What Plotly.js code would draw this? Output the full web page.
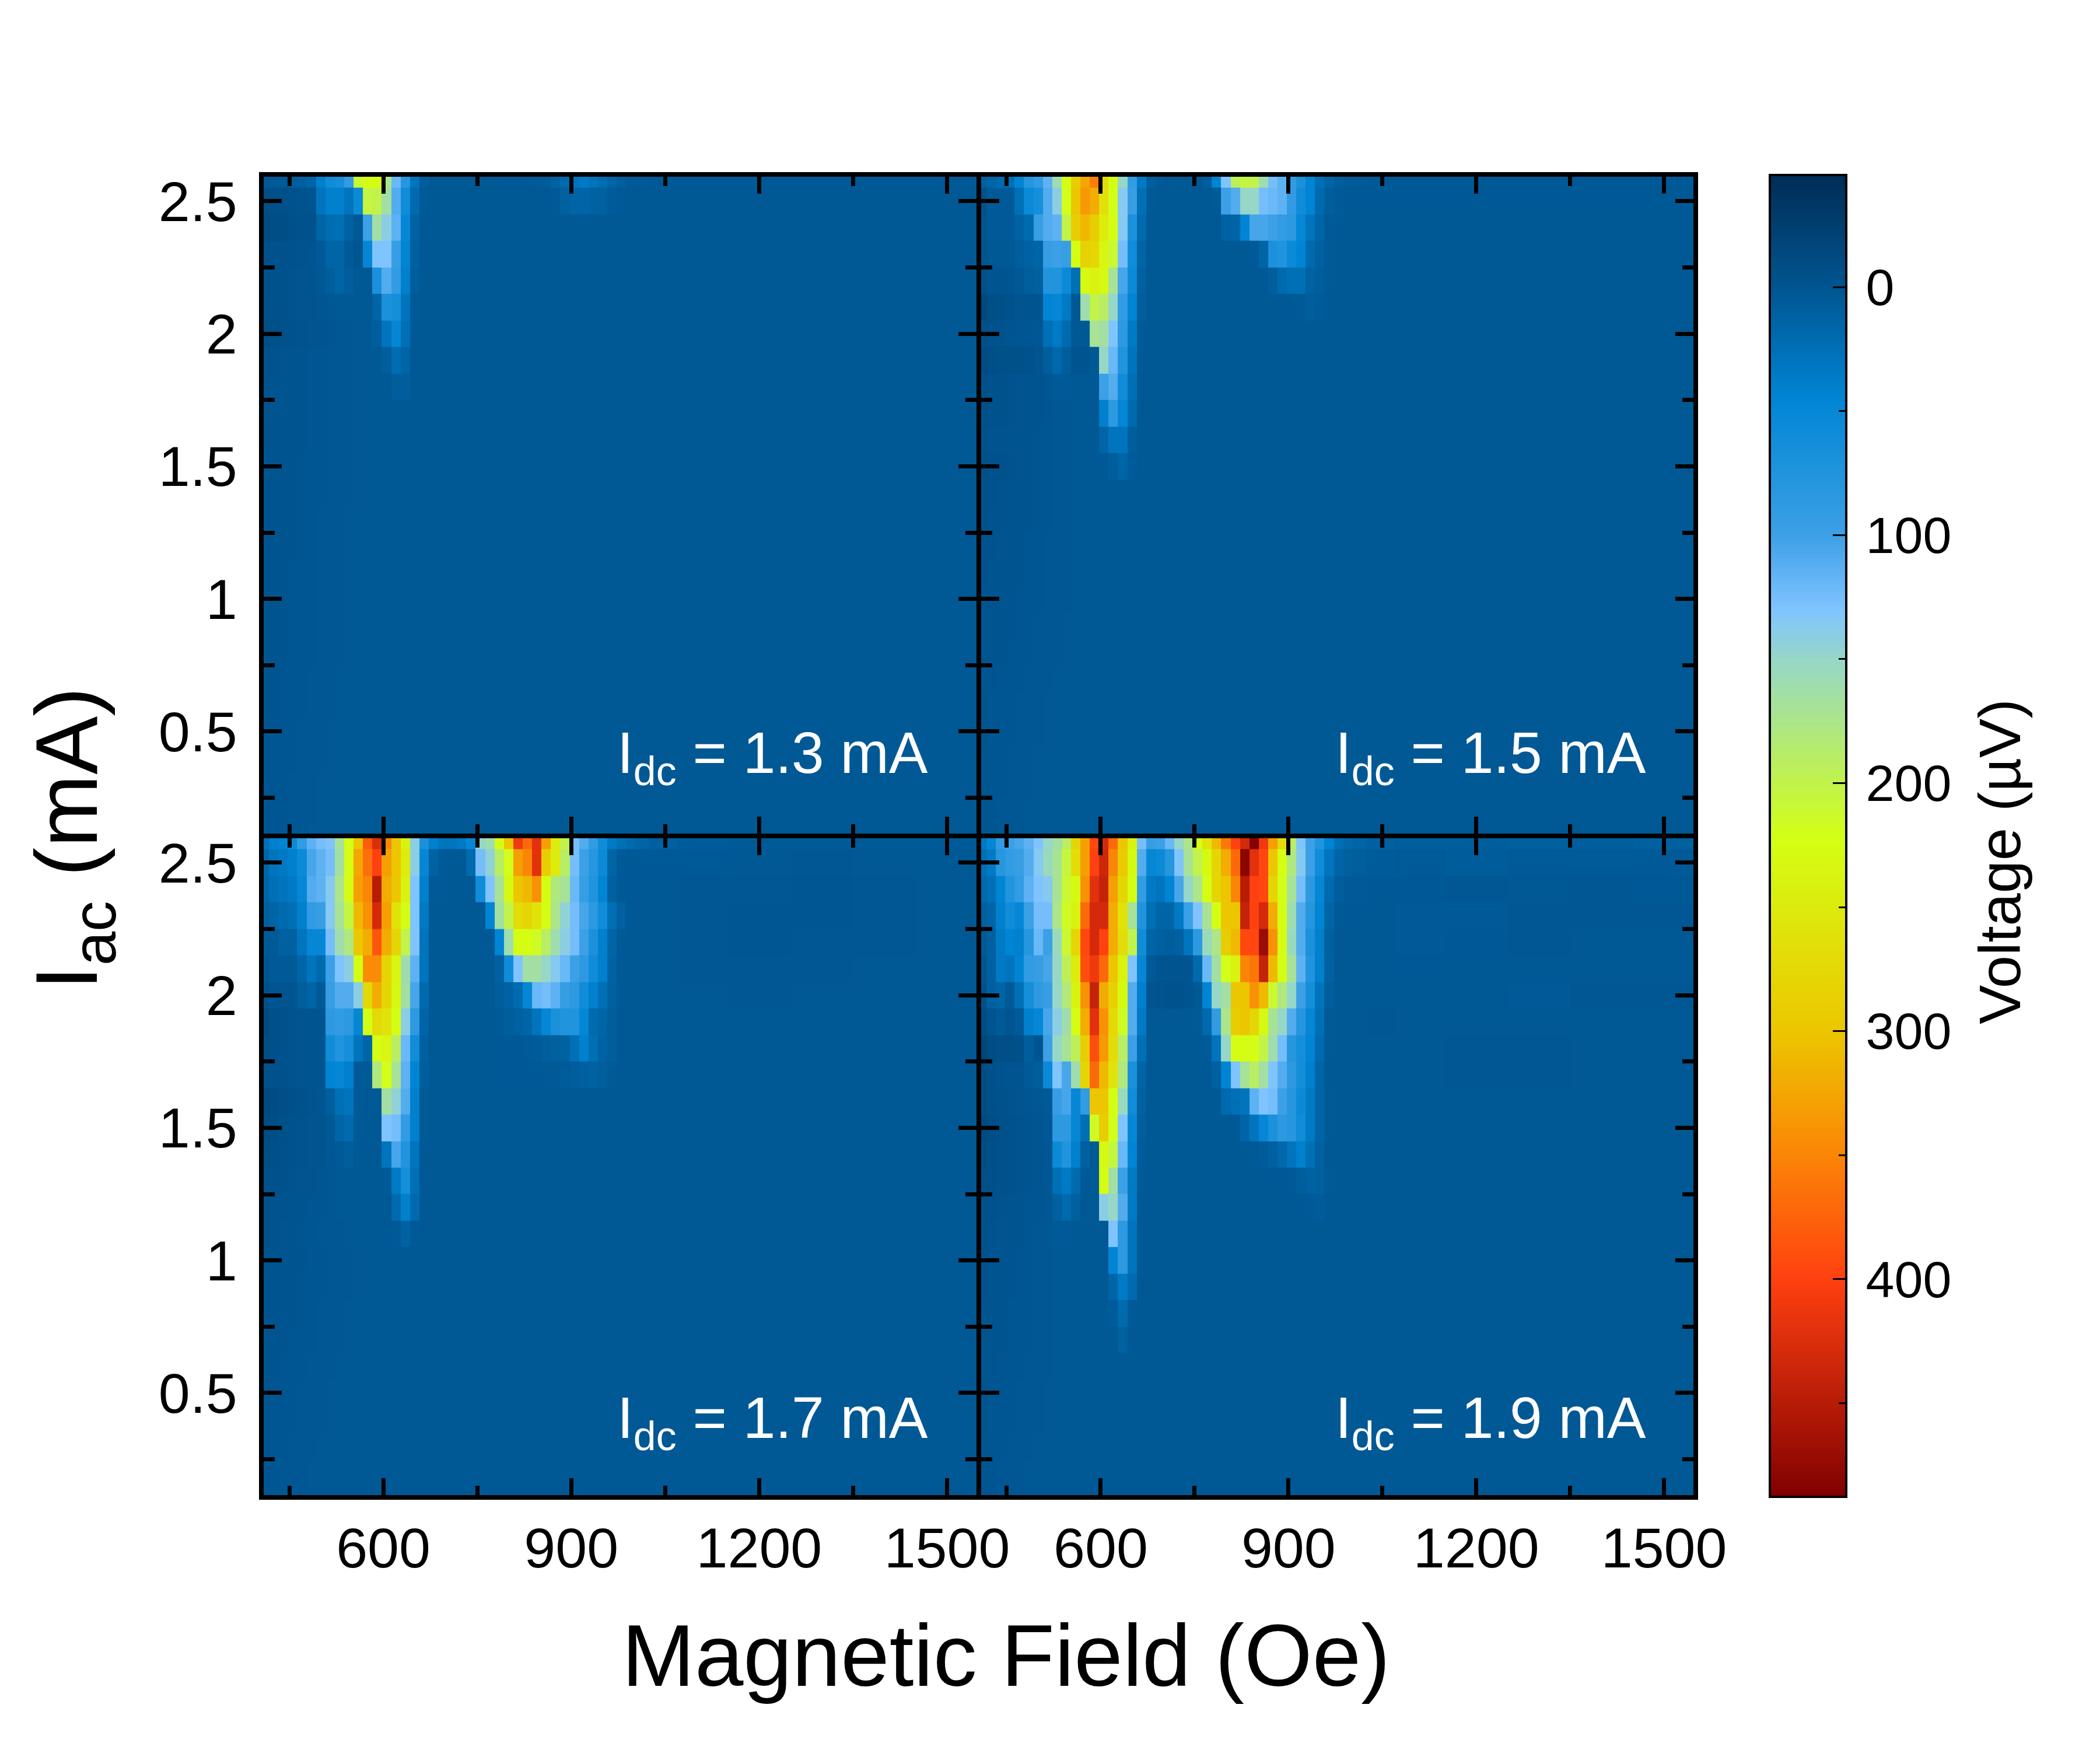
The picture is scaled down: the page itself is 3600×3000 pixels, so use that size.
<!DOCTYPE html>
<html>
<head>
<meta charset="utf-8">
<script src="https://cdn.plot.ly/plotly-3.0.1.min.js"></script>
<style>body { margin: 0; background: #fff; }</style>
</head>
<body>
<div id="map"></div>
<script>
// columns (Oe) and rows (mA), rows are written top to bottom as in the picture
var fieldOe = [410,425,440,455,470,485,500,515,530,545,560,575,590,
  605,620,635,650,665,680,695,710,725,740,755,770,785,800,815,830,845,860,875,890,905,920,935,950,965,980,995,
  1010,1040,1100,1200,1300,1400,1500];
var iacMa = [2.6,2.5,2.4,2.3,2.2,2.1,2.0,1.9,1.8,1.7,1.6,1.5,1.4,1.3,1.2,1.1,1.0,0.9,0.8,0.7,0.6,0.5,0.4,0.3,0.2,0.1];

// Voltage in uV
var idc13 = [
[3,5,5,8,10,15,40,60,65,90,210,225,225, 175,120,80,30,8,4,3,3,3,3,3,3,3,4,4,5,5,6,12,20,30,35,28,22,15,8,5, 5,4,4,4,4,4,4],
[-8,-5,-5,-3,-2,0,30,40,40,30,55,205,200, 165,110,60,20,5,3,3,3,3,3,3,3,3,3,3,3,3,3,5,10,14,15,12,10,6,4,3, 3,3,3,3,3,3,3],
[-10,-8,-8,-5,-3,-3,15,22,25,12,3,100,165, 140,115,50,12,3,3,3,3,3,3,3,3,3,3,3,3,3,3,3,3,3,3,3,3,3,3,3, 3,3,3,3,3,3,3],
[-5,-4,-4,-3,-2,-1,5,15,15,5,0,50,130, 130,95,45,10,3,3,3,3,3,3,3,3,3,3,3,3,3,3,3,3,3,3,3,3,3,3,3, 3,3,3,3,3,3,3],
[-4,-3,-3,-2,0,0,3,8,15,8,3,3,70, 110,90,40,8,3,3,3,3,3,3,3,3,3,3,3,3,3,3,3,3,3,3,3,3,3,3,3, 3,3,3,3,3,3,3],
[-5,-4,-3,-2,-1,0,1,2,3,3,3,3,15, 70,65,30,5,3,3,3,3,3,3,3,3,3,3,3,3,3,3,3,3,3,3,3,3,3,3,3, 3,3,3,3,3,3,3],
[-8,-5,-4,-3,-2,-1,0,1,2,2,3,3,8, 30,50,25,4,3,3,3,3,3,3,3,3,3,3,3,3,3,3,3,3,3,3,3,3,3,3,3, 3,3,3,3,3,3,3],
[-2,-2,-1,-1,0,1,1,2,2,2,3,3,3, 8,22,15,3,3,3,3,3,3,3,3,3,3,3,3,3,3,3,3,3,3,3,3,3,3,3,3, 3,3,3,3,3,3,3],
[-2,-1,-1,0,0,1,1,2,2,2,3,3,3, 3,8,8,3,3,3,3,3,3,3,3,3,3,3,3,3,3,3,3,3,3,3,3,3,3,3,3, 3,3,3,3,3,3,3],
[-2,-1,-1,0,0,1,1,2,2,2,3,3,3, 3,3,3,3,3,3,3,3,3,3,3,3,3,3,3,3,3,3,3,3,3,3,3,3,3,3,3, 3,3,3,3,3,3,3],
[-2,-1,-1,0,0,1,1,2,2,2,3,3,3, 3,3,3,3,3,3,3,3,3,3,3,3,3,3,3,3,3,3,3,3,3,3,3,3,3,3,3, 3,3,3,3,3,3,3],
[-1,-1,0,0,1,1,1,2,2,2,3,3,3, 3,3,3,3,3,3,3,3,3,3,3,3,3,3,3,3,3,3,3,3,3,3,3,3,3,3,3, 3,3,3,3,3,3,3],
[-1,-1,0,0,1,1,1,2,2,2,3,3,3, 3,3,3,3,3,3,3,3,3,3,3,3,3,3,3,3,3,3,3,3,3,3,3,3,3,3,3, 3,3,3,3,3,3,3],
[-1,0,0,0,1,1,2,2,2,3,3,3,3, 3,3,3,3,3,3,3,3,3,3,3,3,3,3,3,3,3,3,3,3,3,3,3,3,3,3,3, 3,3,3,3,3,3,3],
[-1,0,0,0,1,1,2,2,2,3,3,3,3, 3,3,3,3,3,3,3,3,3,3,3,3,3,3,3,3,3,3,3,3,3,3,3,3,3,3,3, 3,3,3,3,3,3,3],
[-1,0,0,1,1,1,2,2,2,3,3,3,3, 3,3,3,3,3,3,3,3,3,3,3,3,3,3,3,3,3,3,3,3,3,3,3,3,3,3,3, 3,3,3,3,3,3,3],
[-1,0,0,1,1,1,2,2,2,3,3,3,3, 3,3,3,3,3,3,3,3,3,3,3,3,3,3,3,3,3,3,3,3,3,3,3,3,3,3,3, 3,3,3,3,3,3,3],
[0,0,0,1,1,1,2,2,2,3,3,3,3, 3,3,3,3,3,3,3,3,3,3,3,3,3,3,3,3,3,3,3,3,3,3,3,3,3,3,3, 3,3,3,3,3,3,3],
[0,0,0,1,1,1,2,2,2,3,3,3,3, 3,3,3,3,3,3,3,3,3,3,3,3,3,3,3,3,3,3,3,3,3,3,3,3,3,3,3, 3,3,3,3,3,3,3],
[0,0,1,1,1,2,2,2,3,3,3,3,3, 3,3,3,3,3,3,3,3,3,3,3,3,3,3,3,3,3,3,3,3,3,3,3,3,3,3,3, 3,3,3,3,3,3,3],
[0,0,1,1,1,2,2,2,3,3,3,3,3, 3,3,3,3,3,3,3,3,3,3,3,3,3,3,3,3,3,3,3,3,3,3,3,3,3,3,3, 3,3,3,3,3,3,3],
[0,1,1,1,2,2,2,3,3,3,3,3,3, 3,3,3,3,3,3,3,3,3,3,3,3,3,3,3,3,3,3,3,3,3,3,3,3,3,3,3, 3,3,3,3,3,3,3],
[0,1,1,1,2,2,2,3,3,3,3,3,3, 3,3,3,3,3,3,3,3,3,3,3,3,3,3,3,3,3,3,3,3,3,3,3,3,3,3,3, 3,3,3,3,3,3,3],
[1,1,1,2,2,2,3,3,3,3,3,3,3, 3,3,3,3,3,3,3,3,3,3,3,3,3,3,3,3,3,3,3,3,3,3,3,3,3,3,3, 3,3,3,3,3,3,3],
[1,1,1,2,2,2,3,3,3,3,3,3,3, 3,3,3,3,3,3,3,3,3,3,3,3,3,3,3,3,3,3,3,3,3,3,3,3,3,3,3, 3,3,3,3,3,3,3],
[1,1,2,2,2,3,3,3,3,3,3,3,3, 3,3,3,3,3,3,3,3,3,3,3,3,3,3,3,3,3,3,3,3,3,3,3,3,3,3,3, 3,3,3,3,3,3,3]
];

var idc15 = [
[10,15,20,25,45,80,90,115,160,225,290,325,355, 270,225,150,90,35,8,5,3,3,3,3,8,45,130,195,205,200,160,125,115,90,70,45,25,15,8,6, 5,4,4,4,4,4,4],
[-5,5,5,5,25,55,65,110,140,220,300,335,320, 265,220,135,95,25,5,3,3,3,3,3,3,5,100,110,150,150,125,120,115,90,60,45,20,8,5,4, 4,4,4,4,4,4,4],
[0,5,5,5,12,20,95,110,115,200,290,310,290, 250,225,135,70,20,3,3,3,3,3,3,3,3,12,15,45,105,105,100,90,85,50,30,15,5,4,3, 3,3,3,3,3,3,3],
[0,3,3,3,8,12,15,95,100,95,225,285,280, 235,210,125,60,15,3,3,3,3,3,3,3,3,3,3,3,5,15,70,75,55,45,20,10,5,3,3, 3,3,3,3,3,3,3],
[-5,0,0,1,3,8,10,75,75,55,25,230,240, 230,170,105,55,10,3,3,3,3,3,3,3,3,3,3,3,3,4,8,20,25,25,12,8,5,3,3, 3,3,3,3,3,3,3],
[-15,-8,-5,-3,0,0,0,45,50,35,3,160,200, 190,150,90,45,8,3,3,3,3,3,3,3,3,3,3,3,3,3,3,3,4,5,8,6,4,3,3, 3,3,3,3,3,3,3],
[-5,-3,-2,0,1,1,2,25,35,20,3,3,170, 165,130,85,35,5,3,3,3,3,3,3,3,3,3,3,3,3,3,3,3,3,3,3,3,3,3,3, 3,3,3,3,3,3,3],
[-10,-8,-6,-5,-5,-3,0,8,18,8,0,0,3, 150,120,75,30,5,3,3,3,3,3,3,3,3,3,3,3,3,3,3,3,3,3,3,3,3,3,3, 3,3,3,3,3,3,3],
[-5,-4,-3,-2,-1,0,0,1,5,5,3,3,3, 100,110,60,25,4,3,3,3,3,3,3,3,3,3,3,3,3,3,3,3,3,3,3,3,3,3,3, 3,3,3,3,3,3,3],
[-5,-4,-3,-2,-1,0,0,1,2,2,3,3,3, 40,85,50,20,3,3,3,3,3,3,3,3,3,3,3,3,3,3,3,3,3,3,3,3,3,3,3, 3,3,3,3,3,3,3],
[-3,-2,-2,-1,0,0,1,1,2,2,3,3,3, 15,30,30,8,3,3,3,3,3,3,3,3,3,3,3,3,3,3,3,3,3,3,3,3,3,3,3, 3,3,3,3,3,3,3],
[-5,-4,-3,-2,-1,0,1,1,2,2,3,3,3, 4,8,15,6,3,3,3,3,3,3,3,3,3,3,3,3,3,3,3,3,3,3,3,3,3,3,3, 3,3,3,3,3,3,3],
[-4,-3,-2,-1,0,0,1,1,2,2,3,3,3, 3,3,3,3,3,3,3,3,3,3,3,3,3,3,3,3,3,3,3,3,3,3,3,3,3,3,3, 3,3,3,3,3,3,3],
[-3,-2,-2,-1,0,0,1,1,2,2,3,3,3, 3,3,3,3,3,3,3,3,3,3,3,3,3,3,3,3,3,3,3,3,3,3,3,3,3,3,3, 3,3,3,3,3,3,3],
[-2,-2,-1,-1,0,1,1,2,2,2,3,3,3, 3,3,3,3,3,3,3,3,3,3,3,3,3,3,3,3,3,3,3,3,3,3,3,3,3,3,3, 3,3,3,3,3,3,3],
[-2,-1,-1,0,0,1,1,2,2,2,3,3,3, 3,3,3,3,3,3,3,3,3,3,3,3,3,3,3,3,3,3,3,3,3,3,3,3,3,3,3, 3,3,3,3,3,3,3],
[-1,-1,0,0,1,1,1,2,2,2,3,3,3, 3,3,3,3,3,3,3,3,3,3,3,3,3,3,3,3,3,3,3,3,3,3,3,3,3,3,3, 3,3,3,3,3,3,3],
[-1,0,0,0,1,1,2,2,2,3,3,3,3, 3,3,3,3,3,3,3,3,3,3,3,3,3,3,3,3,3,3,3,3,3,3,3,3,3,3,3, 3,3,3,3,3,3,3],
[0,0,0,1,1,1,2,2,2,3,3,3,3, 3,3,3,3,3,3,3,3,3,3,3,3,3,3,3,3,3,3,3,3,3,3,3,3,3,3,3, 3,3,3,3,3,3,3],
[0,0,1,1,1,2,2,2,3,3,3,3,3, 3,3,3,3,3,3,3,3,3,3,3,3,3,3,3,3,3,3,3,3,3,3,3,3,3,3,3, 3,3,3,3,3,3,3],
[0,1,1,1,2,2,2,3,3,3,3,3,3, 3,3,3,3,3,3,3,3,3,3,3,3,3,3,3,3,3,3,3,3,3,3,3,3,3,3,3, 3,3,3,3,3,3,3],
[0,1,1,1,2,2,2,3,3,3,3,3,3, 3,3,3,3,3,3,3,3,3,3,3,3,3,3,3,3,3,3,3,3,3,3,3,3,3,3,3, 3,3,3,3,3,3,3],
[1,1,1,2,2,2,3,3,3,3,3,3,3, 3,3,3,3,3,3,3,3,3,3,3,3,3,3,3,3,3,3,3,3,3,3,3,3,3,3,3, 3,3,3,3,3,3,3],
[1,1,1,2,2,2,3,3,3,3,3,3,3, 3,3,3,3,3,3,3,3,3,3,3,3,3,3,3,3,3,3,3,3,3,3,3,3,3,3,3, 3,3,3,3,3,3,3],
[1,1,2,2,2,3,3,3,3,3,3,3,3, 3,3,3,3,3,3,3,3,3,3,3,3,3,3,3,3,3,3,3,3,3,3,3,3,3,3,3, 3,3,3,3,3,3,3],
[1,1,2,2,2,3,3,3,3,3,3,3,3, 3,3,3,3,3,3,3,3,3,3,3,3,3,3,3,3,3,3,3,3,3,3,3,3,3,3,3, 3,3,3,3,3,3,3]
];

var idc17 = [
[25,40,45,55,90,115,125,130,170,222,300,380,425, 350,300,240,140,70,40,30,30,35,50,150,160,225,300,410,370,420,330,250,200,125,110,90,60,35,25,20, 15,10,6,5,5,5,5],
[15,30,35,40,55,105,115,125,165,225,325,365,400, 330,300,250,140,50,12,5,3,3,20,125,145,190,220,330,350,420,290,250,190,125,100,80,55,15,5,4, 4,4,4,3,2,3,3],
[15,25,30,35,50,110,115,135,175,225,330,350,450, 320,300,240,130,40,5,5,3,3,3,60,130,170,230,300,310,340,225,180,170,120,95,75,45,10,5,4, 4,3,2,2,1,2,3],
[10,15,20,25,40,90,95,135,170,205,310,340,430, 330,260,225,130,35,3,3,3,3,3,3,45,165,200,270,280,260,225,175,145,125,105,85,60,25,10,4, 3,3,2,1,1,2,3],
[5,5,10,10,30,50,50,125,160,180,300,320,385, 320,280,200,130,30,3,3,3,3,3,3,3,45,160,225,225,215,190,160,140,125,100,70,40,15,5,3, 3,3,2,1,2,2,3],
[0,5,5,5,15,30,20,100,130,140,225,345,345, 280,235,160,115,30,3,3,3,3,3,3,3,10,60,130,165,165,150,135,120,100,85,60,40,12,5,3, 3,3,2,2,2,3,3],
[-5,0,0,0,8,15,5,95,110,110,140,275,320, 280,230,165,105,20,3,3,3,3,3,3,3,8,12,20,50,120,125,115,95,85,60,40,25,10,5,3, 3,3,3,2,3,3,3],
[-12,-5,-3,-2,0,0,0,85,90,85,50,225,275, 260,225,140,85,15,3,3,3,3,3,3,3,5,8,10,15,30,50,70,75,75,50,20,15,8,4,3, 3,3,3,3,3,3,3],
[-8,-5,-3,-2,0,0,0,60,75,65,30,15,225, 235,190,120,60,10,3,3,3,3,3,3,3,4,4,4,5,6,8,10,12,25,40,25,12,8,4,3, 3,3,3,3,3,3,3],
[-5,-4,-3,-2,-1,0,0,45,50,40,5,5,180, 220,170,115,45,8,3,3,3,3,3,3,3,4,4,4,4,4,5,5,6,8,10,12,8,5,3,3, 3,3,3,3,3,3,3],
[-12,-10,-7,-5,-3,-2,0,8,25,30,5,3,3, 165,145,110,40,5,3,3,3,3,3,3,3,3,3,3,3,3,3,3,3,3,3,3,3,3,3,3, 3,3,3,3,3,3,3],
[-10,-8,-5,-3,-2,0,0,3,15,20,5,3,3, 130,125,90,40,5,3,3,3,3,3,3,3,3,3,3,3,3,3,3,3,3,3,3,3,3,3,3, 3,3,3,3,3,3,3],
[-8,-6,-4,-3,-2,0,0,2,5,8,3,3,3, 30,105,75,30,3,3,3,3,3,3,3,3,3,3,3,3,3,3,3,3,3,3,3,3,3,3,3, 3,3,3,3,3,3,3],
[-5,-4,-3,-2,0,0,1,2,3,3,3,3,3, 5,35,65,25,3,3,3,3,3,3,3,3,3,3,3,3,3,3,3,3,3,3,3,3,3,3,3, 3,3,3,3,3,3,3],
[-3,-2,-2,-1,0,1,1,2,3,3,3,3,3, 3,20,40,20,3,3,3,3,3,3,3,3,3,3,3,3,3,3,3,3,3,3,3,3,3,3,3, 3,3,3,3,3,3,3],
[-3,-2,-1,0,1,1,2,2,2,3,3,3,3, 3,5,12,5,3,3,3,3,3,3,3,3,3,3,3,3,3,3,3,3,3,3,3,3,3,3,3, 3,3,3,3,3,3,3],
[-2,-1,-1,0,0,1,1,2,2,2,3,3,3, 3,3,3,3,3,3,3,3,3,3,3,3,3,3,3,3,3,3,3,3,3,3,3,3,3,3,3, 3,3,3,3,3,3,3],
[-1,-1,0,0,1,1,1,2,2,2,3,3,3, 3,3,3,3,3,3,3,3,3,3,3,3,3,3,3,3,3,3,3,3,3,3,3,3,3,3,3, 3,3,3,3,3,3,3],
[-1,0,0,0,1,1,2,2,2,3,3,3,3, 3,3,3,3,3,3,3,3,3,3,3,3,3,3,3,3,3,3,3,3,3,3,3,3,3,3,3, 3,3,3,3,3,3,3],
[0,0,0,1,1,1,2,2,2,3,3,3,3, 3,3,3,3,3,3,3,3,3,3,3,3,3,3,3,3,3,3,3,3,3,3,3,3,3,3,3, 3,3,3,3,3,3,3],
[0,0,1,1,1,2,2,2,3,3,3,3,3, 3,3,3,3,3,3,3,3,3,3,3,3,3,3,3,3,3,3,3,3,3,3,3,3,3,3,3, 3,3,3,3,3,3,3],
[0,1,1,1,2,2,2,3,3,3,3,3,3, 3,3,3,3,3,3,3,3,3,3,3,3,3,3,3,3,3,3,3,3,3,3,3,3,3,3,3, 3,3,3,3,3,3,3],
[0,1,1,1,2,2,2,3,3,3,3,3,3, 3,3,3,3,3,3,3,3,3,3,3,3,3,3,3,3,3,3,3,3,3,3,3,3,3,3,3, 3,3,3,3,3,3,3],
[1,1,1,2,2,2,3,3,3,3,3,3,3, 3,3,3,3,3,3,3,3,3,3,3,3,3,3,3,3,3,3,3,3,3,3,3,3,3,3,3, 3,3,3,3,3,3,3],
[1,1,2,2,2,3,3,3,3,3,3,3,3, 3,3,3,3,3,3,3,3,3,3,3,3,3,3,3,3,3,3,3,3,3,3,3,3,3,3,3, 3,3,3,3,3,3,3],
[1,1,2,2,2,3,3,3,3,3,3,3,3, 3,3,3,3,3,3,3,3,3,3,3,3,3,3,3,3,3,3,3,3,3,3,3,3,3,3,3, 3,3,3,3,3,3,3]
];

var idc19 = [
[35,50,90,100,105,115,130,150,165,190,280,330,395, 430,370,300,240,125,95,100,120,150,175,225,260,310,360,400,430,485,410,330,270,190,130,100,75,45,25,18, 15,10,8,8,10,8,10],
[25,35,80,90,95,110,135,155,170,205,270,330,400, 435,350,295,230,110,50,55,80,130,170,200,230,280,320,370,480,420,395,300,225,180,135,100,60,30,15,10, 8,6,5,7,5,5,5],
[20,25,45,75,90,115,130,135,170,210,230,340,420, 440,330,280,225,90,35,30,45,105,150,175,225,280,300,350,450,400,395,280,220,170,125,85,50,20,8,5, 5,4,4,2,3,2,4],
[10,15,40,60,50,100,125,125,175,215,240,370,430, 430,320,260,170,75,25,15,15,35,100,130,170,225,300,300,440,400,430,320,225,160,110,80,45,15,5,4, 4,3,5,5,2,2,2],
[5,10,35,45,40,80,120,100,155,210,280,395,430, 400,320,270,200,60,15,10,8,10,30,85,155,175,290,310,395,395,470,340,225,155,110,70,40,10,3,3, 3,3,5,4,2,3,3],
[0,10,35,30,45,90,95,105,150,195,250,390,410, 370,300,240,130,50,5,0,0,0,0,20,120,165,220,240,350,360,440,310,225,170,115,75,40,12,3,3, 3,3,4,3,3,3,3],
[-5,10,15,5,25,65,85,95,150,180,240,340,440, 320,285,230,110,40,0,-2,-3,-3,0,3,45,150,165,300,300,340,310,210,180,150,100,65,30,8,3,3, 3,3,3,3,5,2,2],
[-10,0,5,0,5,40,50,105,140,160,225,320,420, 340,275,215,110,35,3,3,3,3,3,5,20,90,175,290,300,280,230,170,150,110,80,50,25,5,3,3, 3,2,3,3,3,3,3],
[-16,-10,-7,-7,-6,8,0,100,150,170,195,290,390, 335,270,190,100,25,3,3,3,3,3,3,5,30,150,225,225,225,200,160,125,80,65,45,20,5,3,3, 3,3,3,2,2,3,3],
[-8,-5,-2,0,0,5,8,55,130,105,160,280,370, 310,260,180,70,15,3,3,3,3,3,3,3,10,45,130,170,190,165,130,110,85,65,40,15,3,3,3, 3,3,3,2,2,3,3],
[-8,-5,-3,-2,0,1,2,5,95,105,50,90,300, 300,225,155,60,10,3,3,3,3,3,3,3,3,20,25,30,115,130,125,100,80,55,35,15,5,3,3, 3,3,3,3,3,3,3],
[-12,-8,-5,-3,-2,0,1,3,85,85,50,25,215, 290,220,130,50,8,3,3,3,3,3,3,3,3,3,4,15,30,50,70,85,80,60,35,15,5,3,3, 3,3,3,3,3,3,3],
[-8,-6,-4,-3,-2,0,1,2,55,75,40,10,5, 230,205,120,45,6,3,3,3,3,3,3,3,3,3,3,3,4,6,10,18,30,40,25,10,4,3,3, 3,3,3,3,3,3,3],
[-6,-5,-4,-3,-2,0,1,2,25,35,20,5,5, 225,165,100,35,5,3,3,3,3,3,3,3,3,3,3,3,3,3,4,4,5,8,12,10,5,3,3, 3,3,3,3,3,3,3],
[-4,-3,-2,-1,0,1,1,2,10,20,10,3,3, 140,150,110,35,4,3,3,3,3,3,3,3,3,3,3,3,3,3,3,3,3,4,5,6,4,3,3, 3,3,3,3,3,3,3],
[-3,-2,-1,0,0,1,2,2,5,5,3,3,3, 3,130,85,30,5,3,3,3,3,3,3,3,3,3,3,3,3,3,3,3,3,3,3,3,3,3,3, 3,3,3,3,3,3,3],
[-2,-1,0,0,1,1,2,2,3,3,3,3,3, 3,45,85,30,5,3,3,3,3,3,3,3,3,3,3,3,3,3,3,3,3,3,3,3,3,3,3, 3,3,3,3,3,3,3],
[-2,-1,0,0,1,1,2,2,3,3,3,3,3, 3,15,35,20,3,3,3,3,3,3,3,3,3,3,3,3,3,3,3,3,3,3,3,3,3,3,3, 3,3,3,3,3,3,3],
[-1,0,0,1,1,1,2,2,3,3,3,3,3, 3,6,20,5,3,3,3,3,3,3,3,3,3,3,3,3,3,3,3,3,3,3,3,3,3,3,3, 3,3,3,3,3,3,3],
[-1,0,0,1,1,1,2,2,3,3,3,3,3, 3,3,10,3,3,3,3,3,3,3,3,3,3,3,3,3,3,3,3,3,3,3,3,3,3,3,3, 3,3,3,3,3,3,3],
[0,0,1,1,1,2,2,2,3,3,3,3,3, 3,3,3,3,3,3,3,3,3,3,3,3,3,3,3,3,3,3,3,3,3,3,3,3,3,3,3, 3,3,3,3,3,3,3],
[0,1,1,1,2,2,2,3,3,3,3,3,3, 3,3,3,3,3,3,3,3,3,3,3,3,3,3,3,3,3,3,3,3,3,3,3,3,3,3,3, 3,3,3,3,3,3,3],
[0,1,1,1,2,2,2,3,3,3,3,3,3, 3,3,3,3,3,3,3,3,3,3,3,3,3,3,3,3,3,3,3,3,3,3,3,3,3,3,3, 3,3,3,3,3,3,3],
[1,1,1,2,2,2,3,3,3,3,3,3,3, 3,3,3,3,3,3,3,3,3,3,3,3,3,3,3,3,3,3,3,3,3,3,3,3,3,3,3, 3,3,3,3,3,3,3],
[1,1,2,2,2,3,3,3,3,3,3,3,3, 3,3,3,3,3,3,3,3,3,3,3,3,3,3,3,3,3,3,3,3,3,3,3,3,3,3,3, 3,3,3,3,3,3,3],
[1,1,2,2,2,3,3,3,3,3,3,3,3, 3,3,3,3,3,3,3,3,3,3,3,3,3,3,3,3,3,3,3,3,3,3,3,3,3,3,3, 3,3,3,3,3,3,3]
];

var panelLabels = ['1.3', '1.5', '1.7', '1.9'];
var xTicks = [600, 900, 1200, 1500];
var yTicks = [0.5, 1, 1.5, 2, 2.5];
var yTickText = ['0.5', '1', '1.5', '2', '2.5'];
var barTicks = [0, 100, 200, 300, 400];

var vMin = -45, vMax = 488;
var scaleValues = [-45, 0, 45, 100, 130, 150, 222, 300, 345, 400, 488];
var scaleColors = ['rgb(0,45,85)', 'rgb(0,85,145)', 'rgb(0,133,212)', 'rgb(60,160,230)', 'rgb(128,196,255)',
  'rgb(150,215,200)', 'rgb(212,255,20)', 'rgb(236,198,0)', 'rgb(250,140,5)', 'rgb(255,64,16)', 'rgb(128,0,0)'];

var W = 3600, H = 3000;
var FONT = 'Liberation Sans';
function px(v) { return v / W; }
function py(v) { return 1 - v / H; }

var colorscale = scaleValues.map(function (v, i) {
  return [(v - vMin) / (vMax - vMin), scaleColors[i]];
});

// Colour bar runs downwards, so it is its own little heatmap on a reversed axis
var barLevels = [], barZ = [];
for (var v = vMin; v <= vMax; v++) {
  barLevels.push(v);
  barZ.push([v]);
}

function heat(z, n) {
  return {
    type: 'heatmap', x: fieldOe, y: iacMa, z: z,
    coloraxis: 'coloraxis', xaxis: 'x' + n, yaxis: 'y' + n
  };
}

var data = [
  heat(idc13, 1), heat(idc15, 2), heat(idc17, 3), heat(idc19, 4),
  { type: 'heatmap', x: [0], y: barLevels, z: barZ, coloraxis: 'coloraxis', xaxis: 'x5', yaxis: 'y5' }
];

function xAxis(dom, anchor, labels) {
  return {
    domain: [px(dom[0]), px(dom[1])], anchor: anchor, range: [409, 1547],
    tickmode: 'array', tickvals: xTicks, ticktext: xTicks.map(String),
    showticklabels: labels, ticks: 'inside', ticklen: 29, tickwidth: 7, tickcolor: '#000',
    minor: { tick0: 450, dtick: 300, ticks: 'inside', ticklen: 16, tickwidth: 7, tickcolor: '#000' },
    showline: true, linewidth: 8, linecolor: '#000', mirror: 'ticks', showgrid: false, zeroline: false,
    ticklabelstandoff: 0, tickfont: { family: FONT, size: 97, color: '#000' }
  };
}

function yAxis(dom, anchor, labels) {
  return {
    domain: [py(dom[1]), py(dom[0])], anchor: anchor, range: [0.115, 2.592],
    tickmode: 'array', tickvals: yTicks, ticktext: yTickText,
    showticklabels: labels, ticks: 'inside', ticklen: 31, tickwidth: 7, tickcolor: '#000',
    minor: { tick0: 0.25, dtick: 0.5, ticks: 'inside', ticklen: 19, tickwidth: 7, tickcolor: '#000' },
    showline: true, linewidth: 8, linecolor: '#000', mirror: 'ticks', showgrid: false, zeroline: false,
    ticklabelstandoff: 18, tickfont: { family: FONT, size: 97, color: '#000' }
  };
}

var colL = [452, 1674], colR = [1682, 2903];
var rowT = [303, 1429], rowB = [1437, 2563];

var annotations = [];
var labelSpots = [[1593, 1297], [2824, 1297], [1593, 2437], [2824, 2437]];
panelLabels.forEach(function (t, i) {
  annotations.push({
    xref: 'paper', yref: 'paper', x: px(labelSpots[i][0]), y: py(labelSpots[i][1]),
    xanchor: 'right', yanchor: 'middle', showarrow: false,
    text: 'I<sub>dc</sub> = ' + t + ' mA',
    font: { family: FONT, size: 100, color: '#fff' }
  });
});
annotations.push({
  xref: 'paper', yref: 'paper', x: px(1724), y: py(2838), xanchor: 'center', yanchor: 'middle',
  showarrow: false, text: 'Magnetic Field (Oe)', font: { family: FONT, size: 150, color: '#000' }
});
annotations.push({
  xref: 'paper', yref: 'paper', x: px(125), y: py(1438), xanchor: 'center', yanchor: 'middle',
  showarrow: false, textangle: -90, text: 'I<sub>ac</sub> (mA)', font: { family: FONT, size: 150, color: '#000' }
});
annotations.push({
  xref: 'paper', yref: 'paper', x: px(3428), y: py(1477), xanchor: 'center', yanchor: 'middle',
  showarrow: false, textangle: -90, text: 'Voltage (µV)', font: { family: FONT, size: 101, color: '#000' }
});

var layout = {
  width: W, height: H, autosize: false,
  margin: { l: 0, r: 0, t: 0, b: 0 },
  paper_bgcolor: '#fff', plot_bgcolor: '#fff',
  showlegend: false,
  coloraxis: { cmin: vMin, cmax: vMax, colorscale: colorscale, showscale: false },
  xaxis: xAxis(colL, 'y', false), yaxis: yAxis(rowT, 'x', true),
  xaxis2: xAxis(colR, 'y2', false), yaxis2: yAxis(rowT, 'x2', false),
  xaxis3: xAxis(colL, 'y3', true), yaxis3: yAxis(rowB, 'x3', true),
  xaxis4: xAxis(colR, 'y4', true), yaxis4: yAxis(rowB, 'x4', false),
  xaxis5: {
    domain: [px(3036), px(3163)], anchor: 'y5', range: [-0.5, 0.5],
    showticklabels: false, ticks: '', showgrid: false, zeroline: false,
    showline: true, linewidth: 4, linecolor: '#000', mirror: true
  },
  yaxis5: {
    domain: [py(2564), py(302)], anchor: 'x5', side: 'right', range: [487.3, -44.7],
    tickmode: 'array', tickvals: barTicks, ticktext: barTicks.map(String),
    ticks: 'inside', ticklen: 21, tickwidth: 3, tickcolor: '#000',
    minor: { tick0: 50, dtick: 100, ticks: 'inside', ticklen: 11, tickwidth: 3, tickcolor: '#000' },
    showline: true, linewidth: 4, linecolor: '#000', mirror: true, showgrid: false, zeroline: false,
    ticklabelstandoff: 14, tickfont: { family: FONT, size: 88, color: '#000' }
  },
  annotations: annotations
};

Plotly.newPlot('map', data, layout, { displayModeBar: false, staticPlot: true });
</script>
</body>
</html>
